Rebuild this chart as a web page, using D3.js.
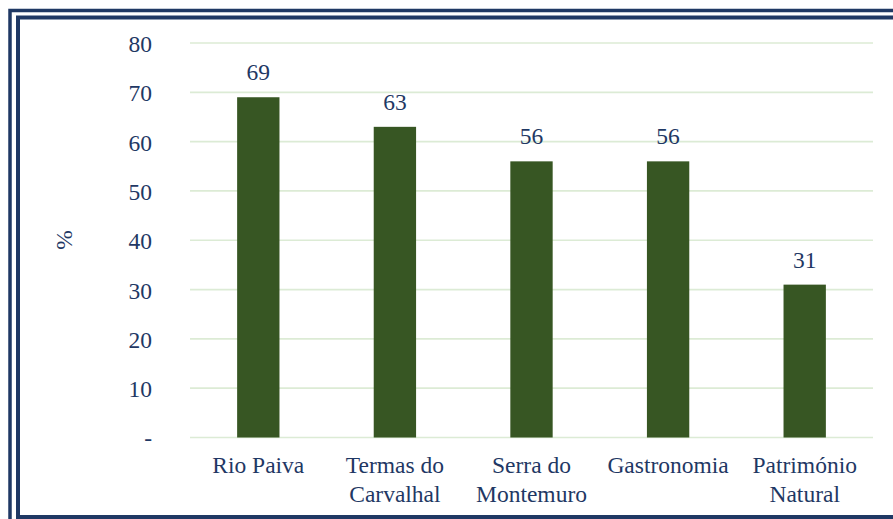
<!DOCTYPE html>
<html>
<head>
<meta charset="utf-8">
<script src="https://cdn.jsdelivr.net/npm/d3@7"></script>
<style>
  html, body { margin: 0; padding: 0; background: #fff; }
  svg { display: block; }
</style>
</head>
<body>
<svg id="chart" width="893" height="519" font-family="Liberation Serif, Tinos, Times New Roman, serif"></svg>
<script>
const categories = [
  ["Rio Paiva"],
  ["Termas do", "Carvalhal"],
  ["Serra do", "Montemuro"],
  ["Gastronomia"],
  ["Património", "Natural"]
];
const values = [69, 63, 56, 56, 31];
const yTicks = [0, 10, 20, 30, 40, 50, 60, 70, 80];
const yTickLabels = ["-", "10", "20", "30", "40", "50", "60", "70", "80"];
const yAxisTitle = "%";

const FONT = "Liberation Serif, Tinos, Times New Roman, serif";
const TEXT_COLOR = "#1F3864";
const FS = 23.5;

const svg = d3.select("#chart");

function styleText(sel) {
  return sel.attr("font-family", FONT)
    .style("font-family", FONT)
    .attr("font-size", FS)
    .attr("fill", TEXT_COLOR);
}

// frame
svg.append("rect").attr("x", 10).attr("y", 10.5).attr("width", 900).attr("height", 520)
  .attr("fill", "none").attr("stroke", "#1F3864").attr("stroke-width", 3.5);
svg.append("rect").attr("x", 18).attr("y", 17.5).attr("width", 900).attr("height", 499.5)
  .attr("fill", "none").attr("stroke", "#1F3864").attr("stroke-width", 4);

const plot = { left: 190, right: 873, top: 43, bottom: 437.5 };

const x = d3.scaleBand()
  .domain(d3.range(categories.length))
  .range([plot.left, plot.right])
  .paddingInner(0.69)
  .paddingOuter(0.345);

const y = d3.scaleLinear().domain([0, 80]).range([plot.bottom, plot.top]);

// gridlines
svg.append("g").selectAll("line").data(yTicks).join("line")
  .attr("x1", plot.left).attr("x2", plot.right)
  .attr("y1", d => y(d)).attr("y2", d => y(d))
  .attr("stroke", "#DCEBD5").attr("stroke-width", 1.7);

// y axis labels
const yAxis = d3.axisLeft(y).tickValues(yTicks).tickFormat((d, i) => yTickLabels[i]).tickSize(0).tickPadding(0);
const yg = svg.append("g").attr("transform", `translate(152,0)`).call(yAxis);
yg.select(".domain").remove();
yg.attr("font-family", FONT).attr("font-size", FS);
styleText(yg.selectAll("text")).attr("dy", "0.36em");

// bars
svg.append("g").selectAll("rect").data(values).join("rect")
  .attr("x", (d, i) => x(i))
  .attr("width", x.bandwidth())
  .attr("y", d => y(d))
  .attr("height", d => y(0) - y(d))
  .attr("fill", "#375623");

// value labels
styleText(svg.append("g").selectAll("text").data(values).join("text"))
  .attr("x", (d, i) => x(i) + x.bandwidth() / 2)
  .attr("y", d => y(d) - 17)
  .attr("text-anchor", "middle")
  .text(d => d);

// category labels
const cg = svg.append("g");
categories.forEach((lines, i) => {
  const cx = x(i) + x.bandwidth() / 2;
  const t = styleText(cg.append("text"))
    .attr("x", cx)
    .attr("y", 473)
    .attr("text-anchor", "middle");
  lines.forEach((ln, j) => {
    t.append("tspan").attr("x", cx).attr("y", 473 + j * 29).text(ln);
  });
});

// y axis title
styleText(svg.append("text"))
  .attr("transform", "translate(64,240) rotate(-90)")
  .attr("text-anchor", "middle")
  .attr("dominant-baseline", "central")
  .text(yAxisTitle);
</script>
</body>
</html>
